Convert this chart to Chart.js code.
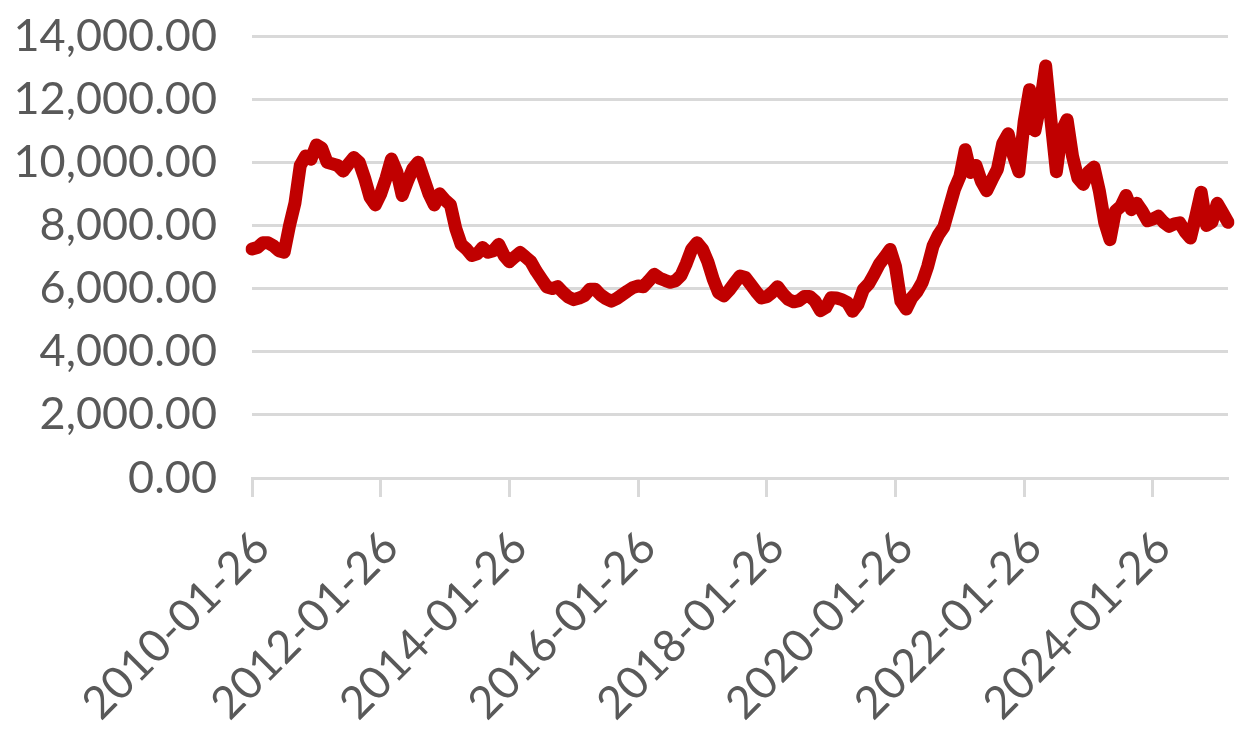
<!DOCTYPE html>
<html>
<head>
<meta charset="utf-8">
<script src="https://cdn.jsdelivr.net/npm/chart.js@4"></script>
<style>
  html, body { margin: 0; padding: 0; background: #fff; }
  #wrap { width: 1242px; height: 741px; }
</style>
</head>
<body>
<div id="wrap"><canvas id="priceChart" width="1242" height="741"></canvas></div>
<script>
// monthly series, 2010-01-26 .. 2025-03-26
const startYear = 2010;
const monthCount = 183;

const values = [
  7250, 7300, 7450, 7450, 7350, 7200, 7150, 8000, 8700, 9900, 10200, 10100,
  10550, 10450, 10000, 9950, 9900, 9720, 9950, 10150, 10000, 9500, 8900, 8650,
  9000, 9500, 10100, 9700, 8950, 9400, 9800, 10000, 9500, 9000, 8650, 9000,
  8800, 8650, 7900, 7400, 7250, 7050, 7100, 7300, 7150, 7200, 7400, 7050,
  6850, 7000, 7140, 7000, 6850, 6550, 6300, 6050, 6000, 6060, 5880, 5730,
  5650, 5700, 5780, 5980, 5980, 5800, 5680, 5600, 5680, 5800, 5920, 6030,
  6080, 6060, 6250, 6450, 6330, 6260, 6200, 6250, 6420, 6800, 7250, 7450,
  7250, 6850, 6300, 5870, 5770, 5950, 6180, 6400, 6350, 6130, 5900, 5700,
  5740, 5880, 6060, 5830, 5660, 5580, 5620, 5750, 5750, 5600, 5300, 5400,
  5710, 5700, 5650, 5560, 5280, 5500, 5970, 6150, 6450, 6780, 7000, 7240,
  6700, 5600, 5350, 5700, 5900, 6200, 6700, 7350, 7700, 7950, 8550, 9150,
  9550, 10400, 9680, 9900, 9400, 9100, 9450, 9780, 10600, 10900, 10200, 9700,
  11300, 12300, 11000, 11850, 13050, 11300, 9700, 11000, 11350, 10200, 9500, 9300,
  9700, 9850, 9100, 8100, 7550, 8450, 8600, 8950, 8500, 8700, 8450, 8150,
  8200, 8290, 8100, 7970, 8050, 8080, 7800, 7600, 8300, 9050, 8000, 8100,
  8700, 8400, 8100
];

const tickLabels = [
  '2010-01-26', '2012-01-26', '2014-01-26', '2016-01-26',
  '2018-01-26', '2020-01-26', '2022-01-26', '2024-01-26'
];

const yTicks = [0, 2000, 4000, 6000, 8000, 10000, 12000, 14000];

// build the date categories
const categories = [];
for (let i = 0; i < monthCount; i++) {
  const y = startYear + Math.floor(i / 12);
  const m = (i % 12) + 1;
  categories.push(y + '-' + String(m).padStart(2, '0') + '-26');
}

const textColor = '#595959';
const gridColor = '#d9d9d9';
const fontFamily = 'Lato, "Open Sans", sans-serif';

new Chart(document.getElementById('priceChart'), {
  type: 'line',
  data: {
    labels: categories,
    datasets: [{
      data: values,
      borderColor: '#c00000',
      borderWidth: 13,
      borderJoinStyle: 'round',
      borderCapStyle: 'round',
      pointRadius: 0,
      tension: 0,
      fill: false
    }]
  },
  options: {
    responsive: false,
    animation: false,
    layout: { padding: { top: 36, right: 14, left: 0, bottom: 0 } },
    plugins: {
      legend: { display: false },
      tooltip: { enabled: false }
    },
    scales: {
      x: {
        type: 'category',
        afterFit: (s) => { s.height = 263; },
        border: { display: true, color: gridColor, width: 3 },
        grid: {
          drawOnChartArea: false,
          drawTicks: true,
          tickLength: 19,
          tickWidth: 3,
          tickColor: gridColor,
          color: gridColor
        },
        ticks: {
          autoSkip: false,
          minRotation: 45,
          maxRotation: 45,
          padding: 24,
          labelOffset: 10,
          color: textColor,
          font: { family: fontFamily, size: 45 },
          callback: function(val, idx) {
            const lab = this.getLabelForValue(val);
            return tickLabels.includes(lab) ? lab : null;
          }
        }
      },
      y: {
        min: 0,
        max: 14000,
        afterFit: (s) => {
          s.width = 252;
          // labels sit left of the axis, no extra vertical room needed
          s.paddingTop = 0;
          s.paddingBottom = 0;
        },
        afterBuildTicks: (s) => { s.ticks = yTicks.map(v => ({ value: v })); },
        border: { display: false },
        grid: {
          color: gridColor,
          lineWidth: 3,
          drawTicks: false
        },
        ticks: {
          padding: 35,
          color: textColor,
          font: { family: fontFamily, size: 45 },
          callback: (v) => v.toLocaleString('en-US', { minimumFractionDigits: 2, maximumFractionDigits: 2 })
        }
      }
    }
  }
});
</script>
</body>
</html>
